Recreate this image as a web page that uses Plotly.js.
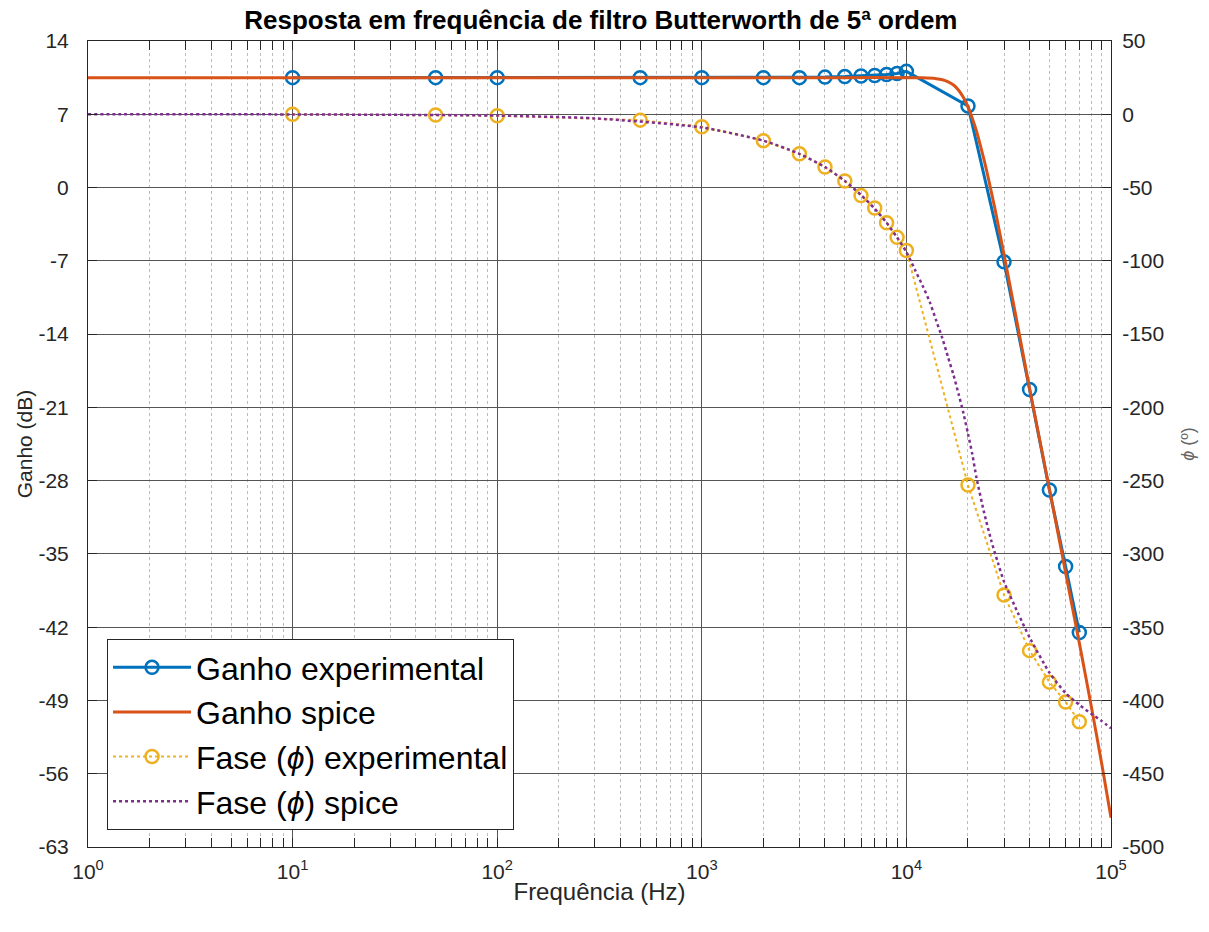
<!DOCTYPE html>
<html>
<head>
<meta charset="utf-8">
<script src="https://cdn.plot.ly/plotly-3.0.1.min.js"></script>
<style>html,body{margin:0;padding:0;background:#fff;}#chart{width:1209px;height:932px;}</style>
</head>
<body>
<div id="chart"></div>
<script>
// Experimental measurements (Hz)
var freqExp = [10, 50, 100, 500, 1000, 2000, 3000, 4000, 5000, 6000, 7000, 8000, 9000, 10000, 20000, 30000, 40000, 50000, 60000, 70000];
var gainExp = [10.5, 10.5, 10.5, 10.5, 10.5, 10.5, 10.5, 10.55, 10.6, 10.65, 10.7, 10.8, 10.9, 11.1, 7.8, -7.1, -19.3, -28.9, -36.2, -42.5];
var phaseExp = [0, -0.5, -1, -4, -8.5, -18, -27, -36, -45.5, -55.5, -64, -74, -84, -93, -253, -328, -366, -387.5, -401, -414.5];

// SPICE simulation
var freqSpiceGain = [1, 10, 100, 1000, 5000, 10000, 12000, 14000, 15000, 16000, 17000, 18000, 19000, 20000, 21000, 22000, 23000, 24000, 25000, 27000, 30000, 35000, 40000, 50000, 60000, 70000, 80000, 90000, 100000];
var gainSpice = [10.5, 10.5, 10.5, 10.5, 10.5, 10.5, 10.48, 10.4, 10.3, 10.1, 9.8, 9.3, 8.6, 7.7, 6.6, 5.4, 4.0, 2.6, 1.1, -1.9, -6.4, -13.2, -19.2, -28.8, -36.8, -43.5, -49.5, -55.0, -60.2];

var freqSpicePhase = [1, 10, 100, 300, 1000, 2000, 3000, 4000, 5000, 6000, 7000, 8000, 9000, 10000, 11000, 12000, 13000, 14000, 15000, 16000, 17000, 18000, 19000, 20000, 21000, 22000, 24000, 26000, 28000, 30000, 35000, 40000, 50000, 60000, 70000, 80000, 90000, 100000];
var phaseSpice = [0, -0.1, -0.9, -2.8, -9, -18, -27, -36, -45.5, -55, -64.5, -74, -84, -94, -106, -117, -128, -141, -153, -166, -178, -191, -204, -218, -232, -248, -272, -291, -306, -319, -340, -357, -381, -395, -403, -409, -414, -419];

// Axis ticks
var xTickVals = [1, 10, 100, 1000, 10000, 100000];
var xTickText = ['10<sup>0</sup>', '10<sup>1</sup>', '10<sup>2</sup>', '10<sup>3</sup>', '10<sup>4</sup>', '10<sup>5</sup>'];
var yLeftTicks = [14, 7, 0, -7, -14, -21, -28, -35, -42, -49, -56, -63];
var yRightTicks = [50, 0, -50, -100, -150, -200, -250, -300, -350, -400, -450, -500];

var FONT = 'Liberation Sans, Arial, Helvetica, sans-serif';
var AX = '#262626';

var traces = [
  {x: freqExp, y: gainExp, name: 'Ganho experimental', type: 'scatter', mode: 'lines+markers',
   line: {color: '#0072BD', width: 3}, marker: {symbol: 'circle-open', size: 13, color: '#0072BD', line: {width: 2.5, color: '#0072BD'}},
   yaxis: 'y', legendgroup: 'g1'},
  {x: freqSpiceGain, y: gainSpice, name: 'Ganho spice', type: 'scatter', mode: 'lines',
   line: {color: '#D95319', width: 3, shape: 'spline', smoothing: 0.6}, yaxis: 'y', legendgroup: 'g2'},
  {x: freqExp, y: phaseExp, name: 'Fase (<i>ϕ</i>) experimental', type: 'scatter', mode: 'lines+markers',
   line: {color: '#EDB120', width: 2, dash: 'dot'}, marker: {symbol: 'circle-open', size: 13, color: '#EDB120', line: {width: 2.5, color: '#EDB120'}},
   yaxis: 'y2', legendgroup: 'g3'},
  {x: freqSpicePhase, y: phaseSpice, name: 'Fase (<i>ϕ</i>) spice', type: 'scatter', mode: 'lines',
   line: {color: '#7E2F8E', width: 2.5, dash: 'dot', shape: 'spline', smoothing: 0.6}, yaxis: 'y2', legendgroup: 'g4'}
];

var layout = {
  width: 1209, height: 932,
  margin: {l: 88, r: 98, t: 41, b: 85},
  paper_bgcolor: '#fff', plot_bgcolor: '#fff',
  font: {family: FONT, color: AX},
  title: {text: '<b>Resposta em frequência de filtro Butterworth de 5ª ordem</b>', x: 0.497, xanchor: 'center', y: 0.979, yanchor: 'middle',
          font: {family: FONT, size: 26, color: '#000'}},
  showlegend: true,
  legend: {x: 0.0186, y: 0.258, xanchor: 'left', yanchor: 'top', bgcolor: '#fff', bordercolor: AX, borderwidth: 1,
           font: {family: FONT, size: 32, color: '#000'}, tracegroupgap: 0, traceorder: 'grouped', itemwidth: 78},
  xaxis: {type: 'log', range: [0, 5], tickvals: xTickVals, ticktext: xTickText,
          showline: true, linecolor: AX, linewidth: 1, mirror: 'allticks', ticks: 'inside', ticklen: 9, tickcolor: AX,
          showgrid: true, gridcolor: '#555', gridwidth: 1, zeroline: false, ticklabelstandoff: 6,
          tickfont: {family: FONT, size: 21, color: AX},
          minor: {dtick: 'D1', ticks: 'inside', ticklen: 6, tickcolor: AX, showgrid: true, gridcolor: '#bcbcbc', griddash: 'dot', gridwidth: 1},
          title: {text: 'Frequência (Hz)', font: {family: FONT, size: 24, color: AX}, standoff: 0}},
  yaxis: {range: [-63, 14], tickvals: yLeftTicks, ticktext: yLeftTicks.map(String),
          showline: true, linecolor: AX, linewidth: 1, ticks: 'inside', ticklen: 9, tickcolor: AX,
          showgrid: true, gridcolor: '#555', gridwidth: 1, zeroline: false, ticklabelstandoff: 14,
          tickfont: {family: FONT, size: 21, color: AX},
          title: {text: 'Ganho (dB)', font: {family: FONT, size: 21, color: AX}, standoff: 0}},
  yaxis2: {range: [-500, 50], tickvals: yRightTicks, ticktext: yRightTicks.map(String), overlaying: 'y', side: 'right',
           showline: true, linecolor: AX, linewidth: 1, ticks: 'inside', ticklen: 9, tickcolor: AX,
           showgrid: false, zeroline: false, ticklabelstandoff: 6,
           tickfont: {family: FONT, size: 21, color: AX},
           title: {text: '<i>ϕ</i> (º)', font: {family: FONT, size: 18, color: '#666'}, standoff: 18}}
};

Plotly.newPlot('chart', traces, layout, {displayModeBar: false, staticPlot: true});
</script>
</body>
</html>
